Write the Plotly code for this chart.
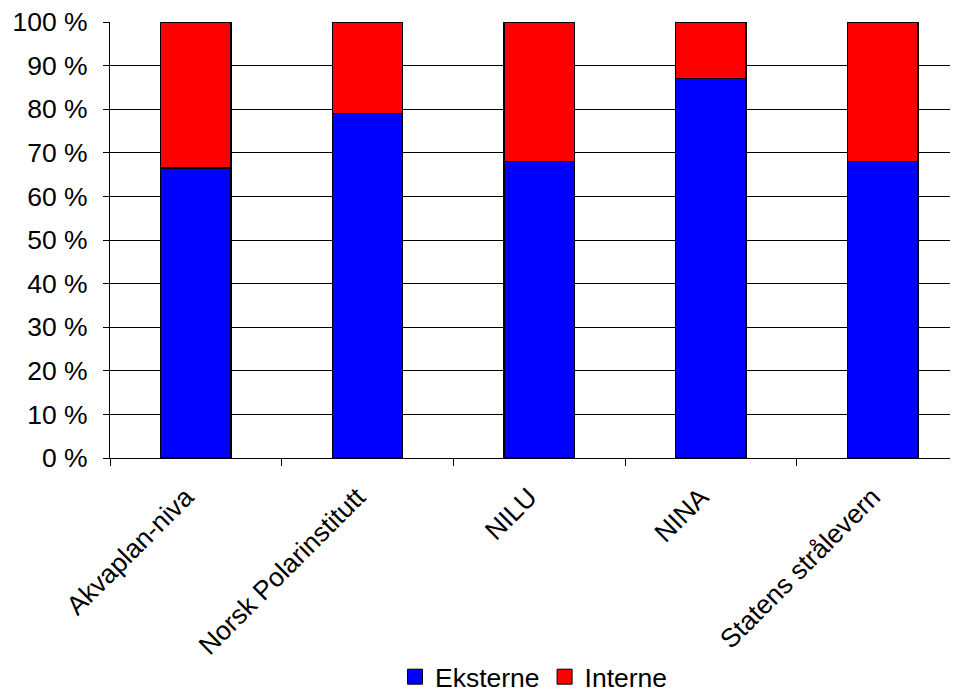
import plotly.graph_objects as go

categories = ["Akvaplan-niva", "Norsk Polarinstitutt", "NILU", "NINA", "Statens strålevern"]
eksterne = [66.5, 79.0, 68.0, 87.0, 68.0]
interne = [33.5, 21.0, 32.0, 13.0, 32.0]
y_ticks = [0, 10, 20, 30, 40, 50, 60, 70, 80, 90, 100]
y_tick_labels = [f"{v} %" for v in y_ticks]
series_names = ["Eksterne", "Interne"]
series_colors = ["#0000FF", "#FF0000"]

FONT = "Liberation Sans, Arial, sans-serif"
FS = 26.5

fig = go.Figure()
for name, vals, col in zip(series_names, [eksterne, interne], series_colors):
    fig.add_trace(go.Bar(
        x=categories, y=vals, name=name, showlegend=False,
        marker=dict(color=col, line=dict(color="black", width=1.5)),
        width=0.41,
    ))
# legend-only entries (larger square swatches with black border)
for name, col in zip(series_names, series_colors):
    fig.add_trace(go.Scatter(
        x=[None], y=[None], mode="markers", name=name,
        marker=dict(symbol="square", size=15, color=col, line=dict(color="black", width=1)),
        showlegend=True,
    ))

fig.update_layout(
    barmode="stack",
    width=950, height=684,
    margin=dict(l=102, r=0, t=14, b=234, autoexpand=False),
    paper_bgcolor="white", plot_bgcolor="white",
    font=dict(family=FONT, size=FS, color="black"),
    showlegend=True,
    legend=dict(
        orientation="h", x=0.5, xanchor="center",
        yref="container", y=0.022, yanchor="middle",
        font=dict(size=FS), itemwidth=30, traceorder="normal",
        bgcolor="rgba(0,0,0,0)", itemsizing="trace",
    ),
)
fig.update_xaxes(
    type="category",
    range=[-0.5, 4.439],
    showline=True, linecolor="black", linewidth=1,
    ticks="outside", ticklen=7, tickcolor="black", tickson="boundaries",
    tickangle=-45, tickfont=dict(size=FS, family=FONT),
    ticklabelstandoff=12, ticklabelshift=-10,
    showgrid=False, automargin=False,
)
fig.update_yaxes(
    range=[0, 100],
    tickvals=y_ticks, ticktext=y_tick_labels,
    showline=True, linecolor="black", linewidth=1,
    ticks="outside", ticklen=6, tickcolor="black",
    ticklabelstandoff=10, ticklabeloverflow="allow",
    showgrid=True, gridcolor="black", gridwidth=1,
    tickfont=dict(size=FS, family=FONT),
    zeroline=False, automargin=False,
)

fig.write_html("out.html")
